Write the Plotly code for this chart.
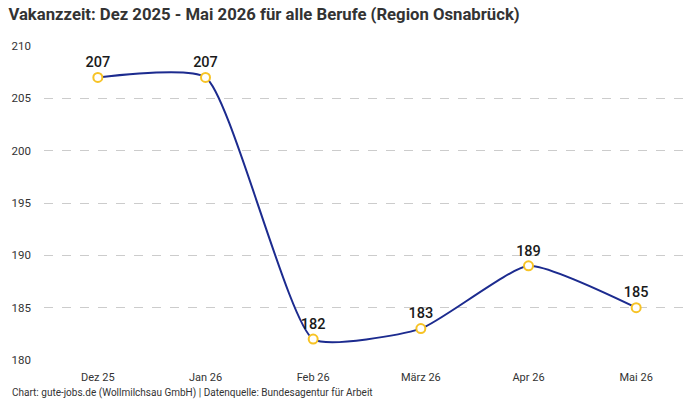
import plotly.graph_objects as go

months = ["Dez 25", "Jan 26", "Feb 26", "März 26", "Apr 26", "Mai 26"]
values = [207, 207, 182, 183, 189, 185]
y_ticks = [180, 185, 190, 195, 200, 205, 210]

FONT = "Roboto, Inter, sans-serif"

fig = go.Figure()
fig.add_trace(go.Scatter(
    x=months, y=values,
    mode="lines+markers+text",
    line=dict(color="#1c2b8f", width=2, shape="spline", smoothing=0.5),
    marker=dict(size=9, color="white", line=dict(color="#f7c325", width=2)),
    text=[str(v) for v in values],
    textposition="top center",
    textfont=dict(family=FONT, size=14.5, color="#1a1a1a", weight=500),
    cliponaxis=False,
    hoverinfo="skip",
))

fig.update_layout(
    width=700, height=400,
    margin=dict(l=44, r=10, t=46, b=40),
    paper_bgcolor="white", plot_bgcolor="white",
    showlegend=False,
    font=dict(family=FONT, color="#333"),
    title=dict(
        text="<b>Vakanzzeit: Dez 2025 - Mai 2026 für alle Berufe (Region Osnabrück)</b>",
        x=0.012, xanchor="left", y=0.978, yanchor="top",
        font=dict(size=16.7, color="#333"),
    ),
    xaxis=dict(
        type="category", range=[-0.5, 5.5],
        showgrid=False, zeroline=False, showline=False,
        tickfont=dict(size=11, color="#333"),
        ticks="", ticklabelstandoff=9,
    ),
    yaxis=dict(
        range=[180, 210], tickvals=y_ticks,
        showgrid=True, gridcolor="#cccccc", griddash="dash", gridwidth=1,
        zeroline=False, showline=False,
        tickfont=dict(size=11.5, color="#333"),
        ticks="", ticklabelstandoff=12,
    ),
    annotations=[dict(
        text="Chart: gute-jobs.de (Wollmilchsau GmbH) | Datenquelle: Bundesagentur für Arbeit",
        xref="paper", yref="paper", x=-0.053, y=-0.105, xanchor="left", yanchor="middle",
        showarrow=False, font=dict(size=10, color="#333"),
    )],
)

fig.write_html("out.html")
